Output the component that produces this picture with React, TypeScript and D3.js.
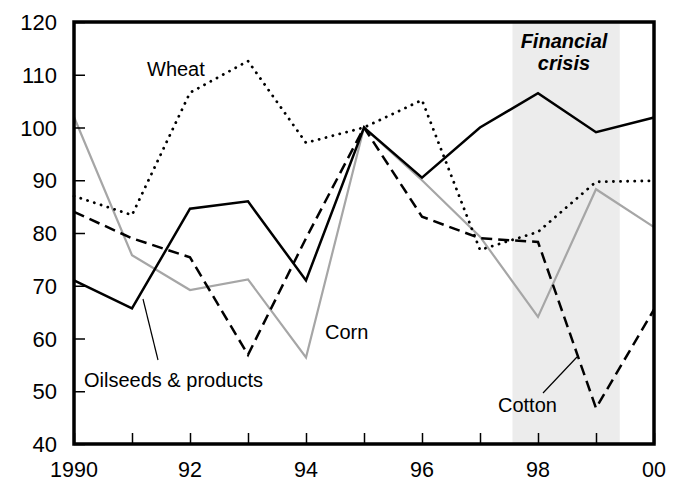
import React, { useEffect, useRef } from 'react';
import * as d3 from 'd3';

// years on the x axis
const years = [1990, 1991, 1992, 1993, 1994, 1995, 1996, 1997, 1998, 1999, 2000];

// index values (1995 = 100)
const oilseeds = [71, 65.7, 84.6, 86, 71, 100, 90.5, 100, 106.5, 99.1, 101.9];
const cotton = [84, 79, 75.4, 56.9, 79, 100, 83.1, 79, 78.3, 46.8, 65.5];
const corn = [102, 75.8, 69.2, 71.2, 56.4, 100, 90, 79.3, 64.1, 88.3, 81.1];
const wheat = [87, 83.4, 106.6, 112.6, 97.1, 100, 105.2, 76.8, 80.2, 89.7, 89.9];

const yTicks = [40, 50, 60, 70, 80, 90, 100, 110, 120];
const xLabelYears = [1990, 1992, 1994, 1996, 1998, 2000];
const xLabels = ['1990', '92', '94', '96', '98', '00'];
const crisisSpan = [1997.56, 1999.41];

const FONT = 'Liberation Sans, Arial, sans-serif';

export default function App() {
  const ref = useRef<SVGSVGElement>(null);

  useEffect(() => {
    const svg = d3.select(ref.current);
    svg.selectAll('*').remove();

    const margin = { top: 22, right: 27, bottom: 38, left: 74 },
      W = 681, H = 482,
      w = W - margin.left - margin.right,
      h = H - margin.top - margin.bottom;

    const x = d3.scaleLinear().domain([1990, 2000]).range([margin.left, margin.left + w]);
    const y = d3.scaleLinear().domain([40, 120]).range([margin.top + h, margin.top]);

    // shaded crisis band
    svg.append('rect')
      .attr('x', x(crisisSpan[0]))
      .attr('y', margin.top)
      .attr('width', x(crisisSpan[1]) - x(crisisSpan[0]))
      .attr('height', h)
      .attr('fill', '#ececec');

    svg.append('text')
      .attr('x', 564).attr('y', 48)
      .attr('text-anchor', 'middle')
      .attr('font-family', FONT).attr('font-size', 20)
      .attr('font-weight', 'bold').attr('font-style', 'italic')
      .text('Financial');
    svg.append('text')
      .attr('x', 564).attr('y', 70)
      .attr('text-anchor', 'middle')
      .attr('font-family', FONT).attr('font-size', 20)
      .attr('font-weight', 'bold').attr('font-style', 'italic')
      .text('crisis');

    const line = d3.line<number>()
      .x((d, i) => x(years[i]))
      .y(d => y(d));

    // corn (grey)
    svg.append('path').datum(corn)
      .attr('d', line).attr('fill', 'none')
      .attr('stroke', '#a6a6a6').attr('stroke-width', 2.2);

    // wheat (dotted)
    svg.append('path').datum(wheat)
      .attr('d', line).attr('fill', 'none')
      .attr('stroke', '#000').attr('stroke-width', 2.8)
      .attr('stroke-linecap', 'round')
      .attr('stroke-dasharray', '0.1 7');

    // cotton (dashed)
    svg.append('path').datum(cotton)
      .attr('d', line).attr('fill', 'none')
      .attr('stroke', '#000').attr('stroke-width', 2.5)
      .attr('stroke-dasharray', '11 6');

    // oilseeds (solid)
    svg.append('path').datum(oilseeds)
      .attr('d', line).attr('fill', 'none')
      .attr('stroke', '#000').attr('stroke-width', 2.5)
      .attr('stroke-linejoin', 'miter');

    // frame
    svg.append('rect')
      .attr('x', margin.left).attr('y', margin.top)
      .attr('width', w).attr('height', h)
      .attr('fill', 'none').attr('stroke', '#000').attr('stroke-width', 3.5);

    // y axis: ticks inside
    const yAxis = svg.append('g')
      .attr('transform', `translate(${margin.left},0)`)
      .call(d3.axisRight(y).tickValues(yTicks).tickSize(11).tickFormat(() => ''));
    yAxis.select('.domain').remove();
    yAxis.selectAll('line').attr('stroke', '#000').attr('stroke-width', 1.5);

    svg.selectAll('.ylab').data(yTicks).join('text')
      .attr('class', 'ylab')
      .attr('x', 57).attr('y', d => y(d) + 8)
      .attr('text-anchor', 'end')
      .attr('font-family', FONT).attr('font-size', 22)
      .text(d => d);

    // x axis: ticks inside, every year
    const xAxis = svg.append('g')
      .attr('transform', `translate(0,${margin.top + h})`)
      .call(d3.axisTop(x).tickValues(years).tickSize(11).tickFormat(() => ''));
    xAxis.select('.domain').remove();
    xAxis.selectAll('line').attr('stroke', '#000').attr('stroke-width', 1.5);

    svg.selectAll('.xlab').data(xLabelYears).join('text')
      .attr('class', 'xlab')
      .attr('x', d => x(d)).attr('y', 477)
      .attr('text-anchor', 'middle')
      .attr('font-family', FONT).attr('font-size', 21.5)
      .text((d, i) => xLabels[i]);

    // series labels
    const labels = [
      { t: 'Wheat', x: 147, y: 76 },
      { t: 'Oilseeds & products', x: 84, y: 387 },
      { t: 'Corn', x: 325, y: 339 },
      { t: 'Cotton', x: 498, y: 412 },
    ];
    svg.selectAll('.slab').data(labels).join('text')
      .attr('class', 'slab')
      .attr('x', d => d.x).attr('y', d => d.y)
      .attr('font-family', FONT).attr('font-size', 20)
      .text(d => d.t);

    // leader lines
    svg.append('line')
      .attr('x1', 158).attr('y1', 360).attr('x2', 143).attr('y2', 299)
      .attr('stroke', '#000').attr('stroke-width', 1.2);
    svg.append('line')
      .attr('x1', 543).attr('y1', 393).attr('x2', 577).attr('y2', 357)
      .attr('stroke', '#000').attr('stroke-width', 1.2);
  }, []);

  return (
    <svg ref={ref} width={681} height={482}
      style={{ position: 'absolute', left: 0, top: 0, background: '#fff' }} />
  );
}
